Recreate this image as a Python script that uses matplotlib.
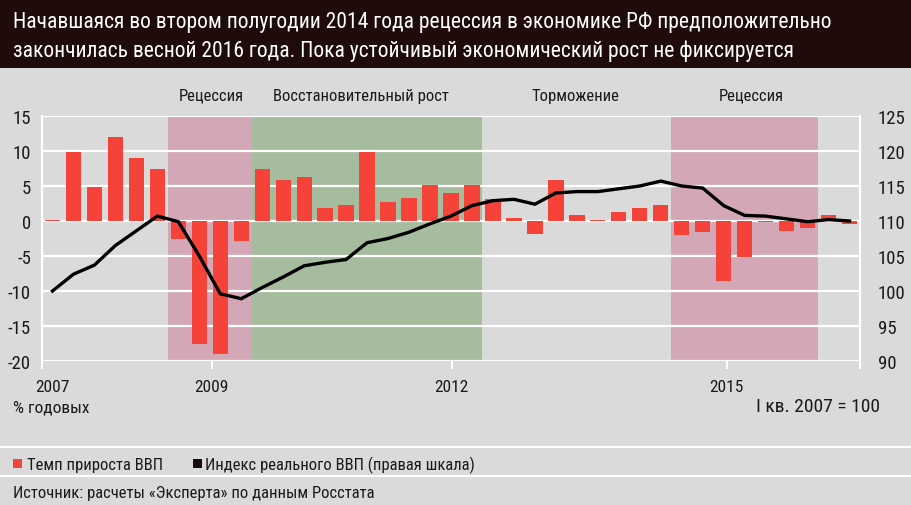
import matplotlib
matplotlib.use("Agg")
import matplotlib.pyplot as plt
from matplotlib import font_manager
from matplotlib.patches import Rectangle
from matplotlib.lines import Line2D
from matplotlib.transforms import blended_transform_factory

# ---------------- data ----------------
years = [2007, 2008, 2009, 2010, 2011, 2012, 2013, 2014, 2015, 2016]
quarters = [f"{y}Q{q}" for y in years for q in (1, 2, 3, 4)][:39]

gdp_growth = [0.1, 9.8, 4.9, 12.0, 9.0, 7.5, -2.6, -17.5, -19.0, -2.8,
              7.5, 5.8, 6.3, 1.8, 2.3, 9.8, 2.7, 3.3, 5.2, 4.0,
              5.2, 3.2, 0.5, -1.9, 5.8, 0.9, 0.1, 1.3, 1.8, 2.3,
              -2.0, -1.5, -8.5, -5.2, -0.2, -1.4, -1.0, 0.9, -0.4]

gdp_index = [100.0, 102.4, 103.7, 106.5, 108.6, 110.7, 109.9, 105.0, 99.6, 98.9,
             100.5, 102.0, 103.6, 104.1, 104.5, 106.9, 107.5, 108.4, 109.6, 110.7,
             112.2, 112.9, 113.1, 112.4, 114.0, 114.2, 114.2, 114.6, 115.0, 115.7,
             115.0, 114.7, 112.2, 110.8, 110.7, 110.3, 109.9, 110.2, 110.0]

# periods: (label, first quarter, last quarter, kind)
periods = [("Рецессия", "2008Q3", "2009Q2", "rec"),
           ("Восстановительный рост", "2009Q3", "2012Q1", "rec_growth"),
           ("Торможение", "2012Q2", "2014Q2", None),
           ("Рецессия", "2014Q3", "2016Q1", "rec")]

year_tick_labels = ["2007", "2009", "2012", "2015"]
year_tick_pos = [-0.5, 7.6, 19.03, 32.14, 38.5]
year_label_pos = [0.0, 7.6, 19.03, 32.14]

left_ticks = [-20, -15, -10, -5, 0, 5, 10, 15]
right_ticks = [90, 95, 100, 105, 110, 115, 120, 125]

title_lines = ["Начавшаяся во втором полугодии 2014 года рецессия в экономике РФ предположительно",
               "закончилась весной 2016 года. Пока устойчивый экономический рост не фиксируется"]

# ---------------- fonts ----------------
available = {f.name for f in font_manager.fontManager.ttflist}
FONT = "DejaVu Sans"
for cand in ["Roboto Condensed", "Liberation Sans Narrow", "Open Sans Condensed",
             "Noto Sans Display", "Roboto", "Liberation Sans"]:
    if cand in available:
        FONT = cand
        break
plt.rcParams["font.family"] = [FONT, "DejaVu Sans"]

# ---------------- colours ----------------
BG = "#dadada"
TITLE_BG = "#1f0b09"
PINK = "#d4a7b6"
GREEN = "#a6bc9f"
RED = "#f5433a"
TXT = "#1a1a1a"

W, H = 912, 506
fig = plt.figure(figsize=(W / 100, H / 100), dpi=100, facecolor=BG)


def fx(px):
    return px / W


def fy(py):
    return 1 - py / H


# title bar
fig.patches.append(Rectangle((0, fy(69)), 1, 1 - fy(69), transform=fig.transFigure,
                             facecolor=TITLE_BG, edgecolor="none", zorder=0))
fig.text(fx(13), fy(28), title_lines[0], color="white", fontsize=15.5, va="baseline", ha="left")
fig.text(fx(13), fy(57), title_lines[1], color="white", fontsize=15.5, va="baseline", ha="left")

# axes
ax_left, ax_right, ax_top, ax_bottom = 42, 860, 117, 362
ax = fig.add_axes([fx(ax_left), fy(ax_bottom), fx(ax_right - ax_left), (ax_bottom - ax_top) / H])
ax.set_facecolor(BG)
x = list(range(len(quarters)))
ax.set_xlim(-0.5, len(quarters) - 0.5)
ax.set_ylim(-20, 15)

span_colors = {"rec": PINK, "rec_growth": GREEN}
for label, q0, q1, kind in periods:
    i0, i1 = quarters.index(q0), quarters.index(q1)
    if kind:
        ax.axvspan(i0 - 0.5, i1 + 0.5, color=span_colors[kind], zorder=0, lw=0)

for t in left_ticks:
    ax.axhline(t, color="white", lw=1.6, zorder=1)

ax.bar(x, gdp_growth, width=0.73, color=RED, zorder=2, linewidth=0)

ax.set_yticks(left_ticks)
ax.set_yticklabels([str(t) for t in left_ticks])
ax.tick_params(axis="y", length=0, pad=8, labelsize=13.5, labelcolor=TXT)
ax.set_xticks(year_tick_pos)
ax.set_xticklabels([""] * len(year_tick_pos))
ax.tick_params(axis="x", length=6, width=1.5, color="white", direction="out")
for s in ["top", "bottom"]:
    ax.spines[s].set_visible(False)
for s in ["left", "right"]:
    ax.spines[s].set_color("white")
    ax.spines[s].set_linewidth(1.6)

ax2 = ax.twinx()
ax2.set_ylim(90, 125)
ax2.plot(x, gdp_index, color="black", lw=2.4, zorder=3, solid_joinstyle="miter")
ax2.set_yticks(right_ticks)
ax2.set_yticklabels([str(t) for t in right_ticks])
ax2.tick_params(axis="y", length=0, pad=13, labelsize=13.5, labelcolor=TXT)
for s in ["top", "bottom", "left", "right"]:
    ax2.spines[s].set_visible(False)

# period labels
tr = blended_transform_factory(ax.transData, fig.transFigure)
label_centers = [211, 361, 575, 751]
for (label, q0, q1, kind), cx in zip(periods, label_centers):
    xd = ax.transData.inverted().transform((fig.transFigure.transform((fx(cx), 0))[0], 0))[0]
    ax.text(xd, fy(101), label, transform=tr, ha="center", va="baseline",
            fontsize=12, color=TXT)

# year labels
for lab, xp in zip(year_tick_labels, year_label_pos):
    ax.text(xp, fy(392), lab, transform=tr, ha="center", va="baseline", fontsize=12.5, color=TXT)

fig.text(fx(13), fy(413), "% годовых", fontsize=12.5, color=TXT, va="baseline", ha="left")
fig.text(fx(880), fy(412), "I кв. 2007 = 100", fontsize=14, color=TXT, va="baseline", ha="right")

# separators
for yy in (448, 477):
    fig.add_artist(Line2D([0, 1], [fy(yy), fy(yy)], transform=fig.transFigure, color="white", lw=1.6))

# legend
fig.patches.append(Rectangle((fx(13), fy(469)), fx(9), 9 / H, transform=fig.transFigure,
                             facecolor=RED, edgecolor="none"))
fig.text(fx(27), fy(470), "Темп прироста ВВП", fontsize=12, color=TXT, va="baseline", ha="left")
fig.patches.append(Rectangle((fx(193), fy(469)), fx(9), 9 / H, transform=fig.transFigure,
                             facecolor="#1a0a08", edgecolor="none"))
fig.text(fx(205), fy(470), "Индекс реального ВВП (правая шкала)", fontsize=12, color=TXT,
         va="baseline", ha="left")

fig.text(fx(13), fy(498), "Источник: расчеты «Эксперта» по данным Росстата", fontsize=12,
         color=TXT, va="baseline", ha="left")

fig.savefig("out.png", dpi=100, facecolor=BG)
